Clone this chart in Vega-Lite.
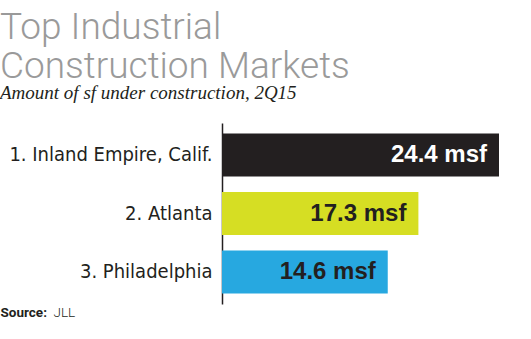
{
  "$schema": "https://vega.github.io/schema/vega-lite/v6.json",
  "width": 277,
  "height": 181,
  "autosize": "none",
  "padding": {"left": 222, "top": 123, "right": 32, "bottom": 35},
  "background": "white",
  "title": {
    "text": ["Top Industrial", "Construction Markets"],
    "subtitle": "Amount of sf under construction, 2Q15",
    "anchor": "start",
    "frame": "group",
    "dx": -222,
    "offset": 19,
    "font": "Roboto",
    "fontWeight": 300,
    "fontSize": 37,
    "lineHeight": 39,
    "color": "#9a9a9a",
    "subtitleFont": "Liberation Serif",
    "subtitleFontStyle": "italic",
    "subtitleFontSize": 19,
    "subtitleColor": "#231f20",
    "subtitlePadding": -2
  },
  "data": {
    "values": [
      {"market": "1. Inland Empire, Calif.", "value": 24.4, "label": "24.4 msf"},
      {"market": "2. Atlanta", "value": 17.3, "label": "17.3 msf"},
      {"market": "3. Philadelphia", "value": 14.6, "label": "14.6 msf"}
    ]
  },
  "encoding": {
    "y": {
      "field": "market",
      "type": "nominal",
      "sort": null,
      "scale": {"paddingInner": 0.265, "paddingOuter": 0.18},
      "axis": {
        "title": null,
        "ticks": false,
        "domainColor": "#231f20",
        "domainWidth": 1.5,
        "labelFont": "'Liberation Sans Narrow', 'DejaVu Sans Condensed', 'Roboto Condensed', sans-serif",
        "labelFontSize": 20,
        "labelColor": "#231f20",
        "labelPadding": 10,
        "labelLimit": 300
      }
    }
  },
  "layer": [
    {
      "mark": {"type": "bar"},
      "encoding": {
        "x": {
          "field": "value",
          "type": "quantitative",
          "scale": {"domain": [0, 24.4], "nice": false},
          "axis": {
            "orient": "bottom",
            "title": "Source:",
            "grid": false,
            "domain": false,
            "ticks": false,
            "labels": false,
            "titleFont": "Roboto",
            "titleFontSize": 13.5,
            "titleFontWeight": "bold",
            "titleColor": "#231f20",
            "titleX": -222,
            "titleY": 12,
            "titleAlign": "left",
            "titleBaseline": "alphabetic"
          }
        },
        "color": {
          "field": "market",
          "type": "nominal",
          "sort": null,
          "legend": null,
          "scale": {
            "domain": ["1. Inland Empire, Calif.", "2. Atlanta", "3. Philadelphia"],
            "range": ["#231f20", "#d6de23", "#27a8e0"]
          }
        }
      }
    },
    {
      "mark": {"type": "text", "align": "right", "dx": -12, "font": "Liberation Sans", "fontWeight": "bold", "fontSize": 24},
      "encoding": {
        "x": {
          "field": "value",
          "type": "quantitative",
          "scale": {"domain": [0, 24.4], "nice": false},
          "axis": {
            "orient": "bottom",
            "title": "JLL",
            "grid": false,
            "domain": false,
            "ticks": false,
            "labels": false,
            "titleFont": "Roboto",
            "titleFontSize": 13.5,
            "titleFontWeight": 300,
            "titleColor": "#231f20",
            "titleX": -169,
            "titleY": 12,
            "titleAlign": "left",
            "titleBaseline": "alphabetic"
          }
        },
        "text": {"field": "label"},
        "color": {
          "condition": {"test": "datum.value > 20", "value": "#ffffff"},
          "value": "#231f20"
        }
      }
    }
  ],
  "resolve": {"axis": {"x": "independent"}},
  "config": {"view": {"stroke": null}}
}
